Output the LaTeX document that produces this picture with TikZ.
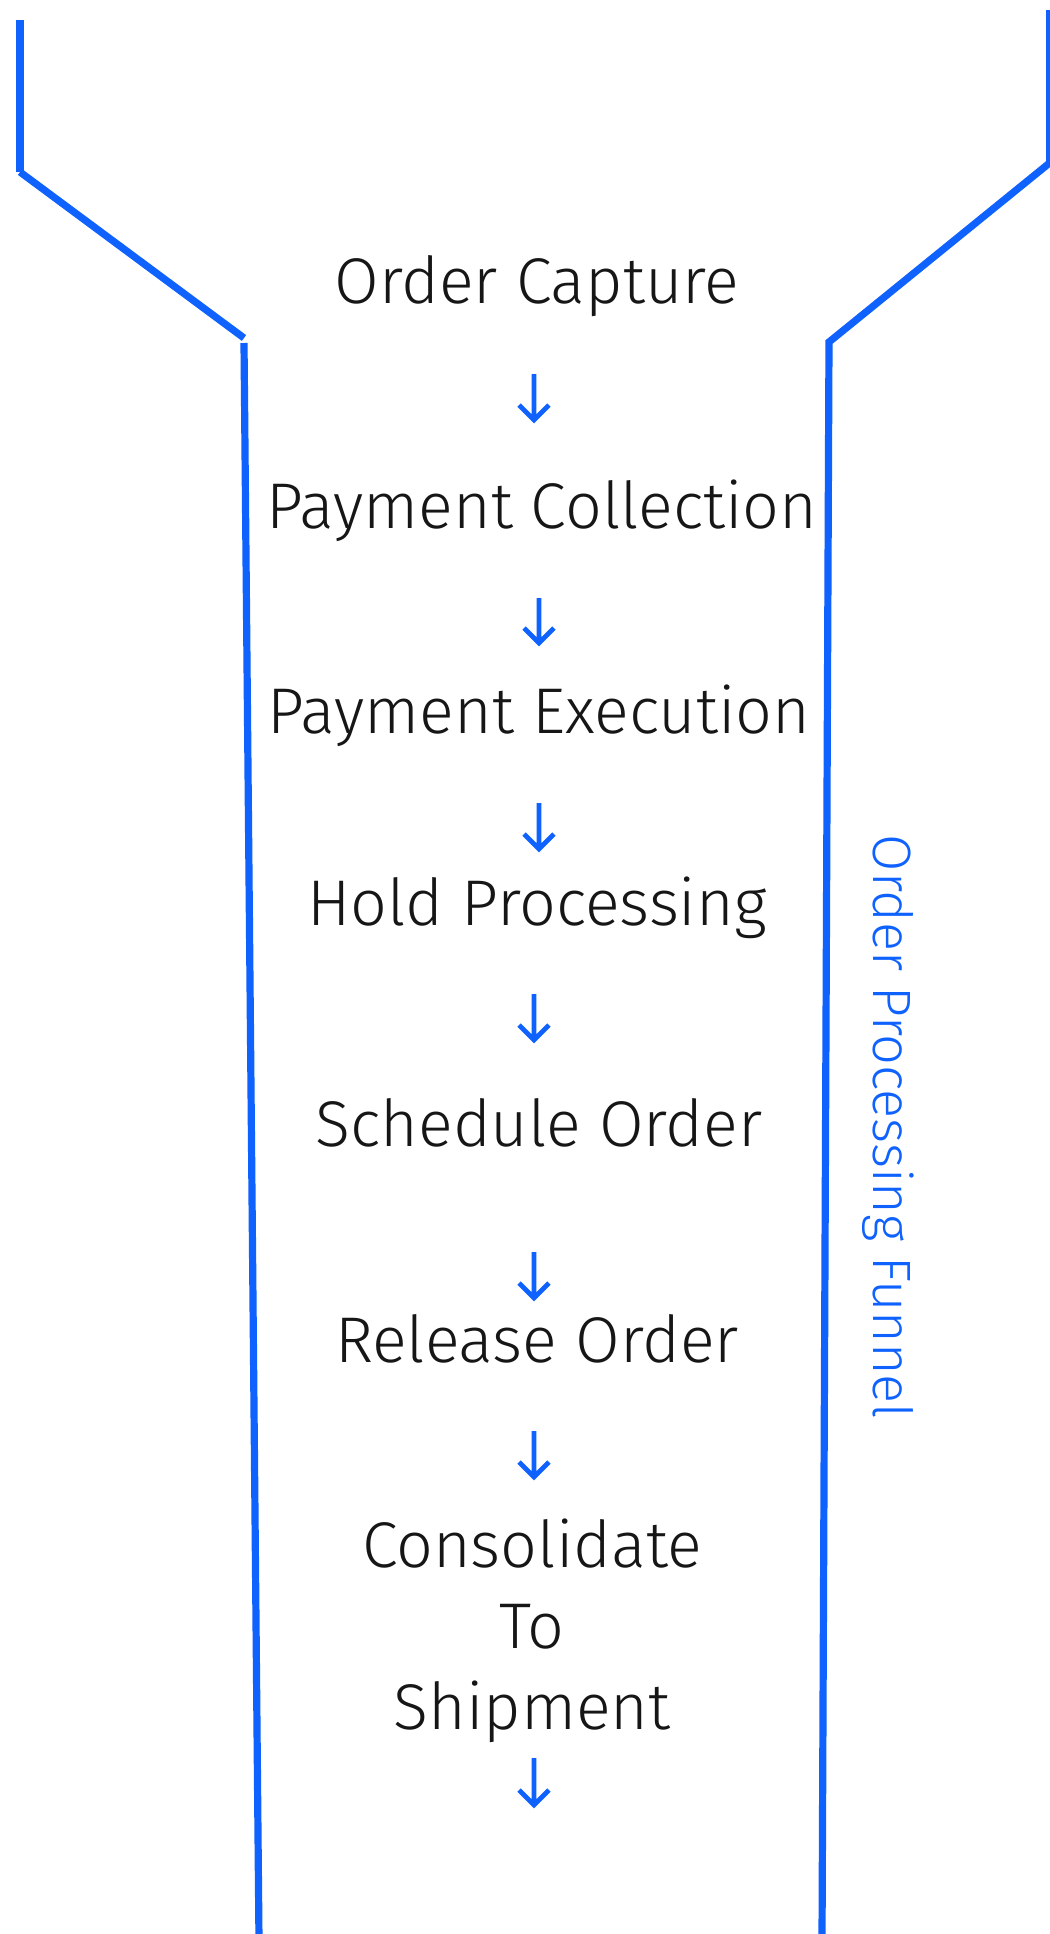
\documentclass[tikz,border=0pt]{standalone}
\usepackage{fontspec}
\IfFontExistsTF{Fira Sans Light}{\setmainfont{Fira Sans Light}}{\setmainfont{Fira Sans}}
\definecolor{funnelblue}{HTML}{0F62FE}
\definecolor{inktext}{HTML}{161616}
\tikzset{
  wall/.style={draw=funnelblue, line width=3.6pt, line cap=butt, line join=miter},
  stage/.style={anchor=base, text=inktext, font=\fontsize{32.3}{40.5}\selectfont, inner sep=0pt},
  funnellabel/.style={anchor=base, text=funnelblue, rotate=-90, font=\fontsize{27}{32}\selectfont, inner sep=0pt},
  flow/.style={draw=funnelblue, line width=2.4pt, line join=miter,
    to path={-- (\tikztotarget) (\tikztotarget) ++(-15,-15) -- (\tikztotarget) -- ++(15,-15)}}
}
\begin{document}
\begin{tikzpicture}[x=0.5pt, y=-0.5pt]
  \useasboundingbox (0,0) rectangle (1050,1934);
  \clip (0,0) rectangle (1050,1934);

  % funnel walls
  \draw[wall] (20,20) -- (20,172);
  \draw[wall] (20,172) -- (244,338);
  \draw[wall] (244,343) -- (259,1940);
  \draw[wall] (1050,10) -- (1050,162);
  \draw[wall] (1052,161) -- (829,342) -- (822,1940);

  % stages
  \node[stage] (capture)     at (537,303) {Order Capture};
  \node[stage] (collection)  at (542,528) {Payment Collection};
  \node[stage] (execution)   at (539,733) {Payment Execution};
  \node[stage] (hold)        at (537,925) {Hold Processing};
  \node[stage] (schedule)    at (539,1146) {Schedule Order};
  \node[stage] (release)     at (537,1362) {Release Order};
  \node[stage, align=center, anchor=north] (consolidate) at (532,1518)
       {Consolidate\\To\\Shipment};

  % side label
  \node[funnellabel] (title) at (873,1127) {Order Processing Funnel};

  % flow arrows
  \coordinate (a1t) at (534,374);  \coordinate (a1b) at (534,420);
  \coordinate (a2t) at (539,598);  \coordinate (a2b) at (539,643);
  \coordinate (a3t) at (539,803);  \coordinate (a3b) at (539,849);
  \coordinate (a4t) at (534,994);  \coordinate (a4b) at (534,1040);
  \coordinate (a5t) at (534,1252); \coordinate (a5b) at (534,1298);
  \coordinate (a6t) at (534,1431); \coordinate (a6b) at (534,1477);
  \coordinate (a7t) at (534,1758); \coordinate (a7b) at (534,1805);
  \foreach \i in {1,...,7} {
    \draw[flow] (a\i t) to (a\i b);
  }
\end{tikzpicture}
\end{document}
